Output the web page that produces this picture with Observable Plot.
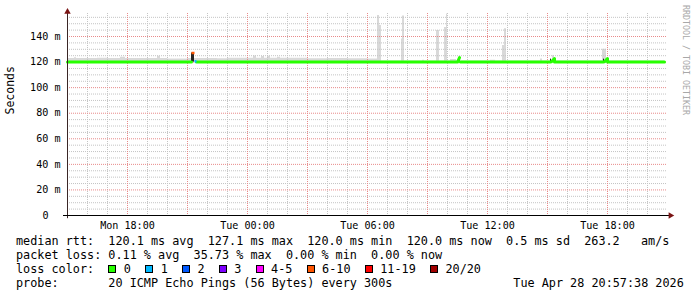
<!DOCTYPE html>
<html><head><meta charset="utf-8">
<script src="https://cdn.jsdelivr.net/npm/d3@7"></script>
<script src="https://cdn.jsdelivr.net/npm/@observablehq/plot@0.6"></script>
<style>
html,body{margin:0;padding:0;background:#fff;}
#wrap{position:relative;width:697px;height:297px;overflow:hidden;font-family:"DejaVu Sans Mono",monospace;color:#000;background:#fff;}
#chart{position:absolute;left:0;top:0;}
#legend{position:absolute;left:16px;top:234.2px;width:681px;font-size:11.8px;line-height:14px;}
.ln{position:relative;height:14px;white-space:pre;}
.box{display:inline-block;width:8px;height:8px;box-sizing:border-box;border:1px solid #000;margin-right:7.5px;vertical-align:baseline;}
.date{position:absolute;left:497.3px;top:0;}
#wm{position:absolute;left:681px;top:5px;writing-mode:vertical-rl;font-size:8.3px;line-height:10px;color:#a8a8a8;white-space:pre;}
</style></head>
<body><div id="wrap"><div id="chart"></div><div id="legend"></div><div id="wm"></div></div>
<script>
// ---------- data ----------
const timeDomain = ["27 15:00", "28 21:00"];
const xLabelTimes = ["27 18:00", "28 00:00", "28 06:00", "28 12:00", "28 18:00"];
const yTicks = [0, 20, 40, 60, 80, 100, 120, 140];
const yMax = 158;

// smoke (spread of pings): step-after tops in ms
const smokeTimes = ["27 15:00","27 15:21","27 15:27","27 16:30","27 17:00","27 17:39","27 17:54","27 19:30","27 19:39","27 20:00","27 21:00","27 22:30","27 23:00",
"28 00:18","28 00:27","28 00:42","28 00:51","28 01:00","28 01:09","28 01:30","28 01:39","28 03:00","28 04:00","28 05:00","28 06:00",
"28 06:30","28 06:36","28 06:42","28 07:42","28 07:45","28 07:51","28 08:45","28 08:51","28 09:27","28 09:36","28 09:51","28 09:57","28 10:00","28 10:09","28 10:27",
"28 12:09","28 12:24","28 12:45","28 12:51","28 12:57","28 14:39","28 14:45","28 15:15","28 15:21","28 17:45","28 17:57","28 20:51"];
const smokeTops = [122.8,123.4,122.8,123.0,122.8,123.8,122.8,124.6,122.8,122.5,122.8,122.6,123.0,
124.8,123.0,124.3,123.0,124.6,123.0,123.8,123.0,122.6,122.8,122.6,122.4,
156.4,148.6,120.8,138.0,156.0,120.8,121.5,120.8,144.7,120.8,147.0,157.7,120.8,122.0,120.8,
121.5,120.8,133.0,146.0,120.8,122.5,120.8,125.0,120.8,130.0,120.8,120.8];
const smokeBase = 119.8;

// median rtt (ms); NaN = break in the line
const medianTimes = ["27 15:00","27 21:12","27 21:12","27 21:27","28 10:30","28 10:36","28 10:36","28 10:39","28 15:09","28 15:09","28 15:12","28 15:21","28 15:21","28 17:48","28 17:48","28 17:51","28 18:00","28 18:00","28 20:51"];
const medianValues = [120.1,120.1,NaN,120.1,120.0,123.5,NaN,120.0,120.0,NaN,120.3,122.8,120.1,120.1,NaN,120.3,122.8,120.1,120.1];

// median segments with packet loss
const lossSegStart = ["27 21:12", "27 21:21"];
const lossSegEnd = ["27 21:21", "27 21:27"];
const lossSegValue = [127.1, 120.6];
const lossSegBin = ["6-10", "1"];

// dark columns (dense smoke at loss events)
const darkStart = ["27 21:12", "28 10:36", "28 15:09", "28 17:48"];
const darkEnd = ["27 21:21", "28 10:39", "28 15:12", "28 17:51"];
const darkTop = [127.1, 123.5, 122.3, 122.3];

// legend
const lossBins = ["0", "1", "2", "3", "4-5", "6-10", "11-19", "20/20"];
const lossColors = ["#26ff00", "#00b8ff", "#0059ff", "#7e00ff", "#ff00ff", "#ff5500", "#ff0000", "#a10000"];
const rttStats = ["120.1 ms avg", "127.1 ms max", "120.0 ms min", "120.0 ms now", "0.5 ms sd", "263.2   am/s"];
const lossStats = ["0.11 % avg", "35.73 % max", "0.00 % min", "0.00 % now"];
const probeText = "20 ICMP Echo Pings (56 Bytes) every 300s";
const dateText = "Tue Apr 28 20:57:38 2026";
const yLabel = "Seconds";
const watermark = "RRDTOOL / TOBI OETIKER";

// ---------- build ----------
const P = s => { const [d, hm] = s.split(" "); const [h, m] = hm.split(":"); return new Date(Date.UTC(2026, 3, +d, +h, +m)); };
const MIN = 60000;
const tStart = P(timeDomain[0]), tEnd = P(timeDomain[1]);
const binColor = Object.fromEntries(lossBins.map((b, i) => [b, lossColors[i]]));

const smoke = smokeTimes.map((s, i) => ({t: P(s), lo: smokeBase, hi: smokeTops[i]}));
const median = medianTimes.map((s, i) => ({t: P(s), v: medianValues[i]}));
const lossSegs = lossSegStart.map((s, i) => ({t1: P(s), t2: P(lossSegEnd[i]), v: lossSegValue[i], c: binColor[lossSegBin[i]]}));
const dark = darkStart.map((s, i) => ({t1: P(s), t2: P(darkEnd[i]), lo: 120, hi: darkTop[i]}));

const minorY = d3.range(5, yMax, 5).filter(v => v % 20 !== 0);
const majorY = d3.range(20, yMax, 20);
const hours = d3.utcHour.range(tStart, tEnd);
const minorX = hours.filter(d => d.getUTCHours() % 3 !== 0);
const majorX = hours.filter(d => d.getUTCHours() % 3 === 0 && +d !== +tStart);

const chart = Plot.plot({
  width: 697, height: 233,
  marginLeft: 67, marginRight: 30, marginTop: 13, marginBottom: 18,
  style: {fontFamily: "'DejaVu Sans Mono', monospace", fontSize: "10.1px", color: "#000", background: "transparent", overflow: "visible"},
  x: {type: "utc", domain: [tStart, tEnd]},
  y: {domain: [0, yMax], label: null},
  marks: [
    Plot.areaY(smoke, {x: "t", y1: "lo", y2: "hi", curve: "step-after", fill: "#d9d9d9"}),
    Plot.ruleY(minorY, {stroke: "#c4c4c4", strokeDasharray: "1,1"}),
    Plot.ruleX(minorX, {stroke: "#c4c4c4", strokeDasharray: "1,1"}),
    Plot.ruleY(majorY, {stroke: "#e88a8a", strokeDasharray: "1,1"}),
    Plot.ruleX(majorX, {stroke: "#e88a8a", strokeDasharray: "1,1"}),
    Plot.rect(dark, {x1: "t1", x2: "t2", y1: "lo", y2: "hi", fill: "#262626"}),
    Plot.line(median, {x: "t", y: "v", stroke: "#26ff00", strokeWidth: 3}),
    Plot.link(lossSegs, {x1: "t1", x2: "t2", y1: "v", y2: "v", stroke: "c", strokeWidth: 2.5}),
    Plot.ruleX([0], {x: () => tStart, y1: () => -2.5, y2: () => yMax, stroke: "#3a2626"}),
    Plot.ruleY([0], {y: () => 0, x1: () => new Date(+tStart - 12 * MIN), x2: () => new Date(+tEnd + 6 * MIN), stroke: "#000"}),
    Plot.dot([0], {x: () => tStart, y: () => yMax + 1.3, symbol: "triangle", r: 2.4, fill: "#7a1414", stroke: null}),
    Plot.dot([0], {x: () => new Date(+tEnd + 9 * MIN), y: () => 0, symbol: "triangle", rotate: 90, r: 2.4, fill: "#7a1414", stroke: null}),
    Plot.axisY(yTicks.filter(d => d > 0), {tickFormat: d => `${d} m`, tickSize: 0, tickPadding: 7, label: null}),
    Plot.axisY([0], {tickFormat: () => "0", tickSize: 0, tickPadding: 19, label: null}),
    Plot.axisX(xLabelTimes.map(P), {tickFormat: d3.utcFormat("%a %H:%M"), tickSize: 0, tickPadding: 6.5, label: null}),
    Plot.text([yLabel], {frameAnchor: "left", rotate: -90, dx: -57, fontSize: 11.5, text: d => d})
  ]
});
document.getElementById("chart").appendChild(chart);

// legend text block
const legend = document.getElementById("legend");
const line = txt => { const d = document.createElement("div"); d.className = "ln"; d.textContent = txt; legend.appendChild(d); return d; };
line("median rtt:  " + rttStats.join("  "));
line("packet loss: " + lossStats.join("  "));
const l3 = line("loss color:  ");
lossBins.forEach((b, i) => {
  const box = document.createElement("span");
  box.className = "box"; box.style.background = lossColors[i];
  l3.appendChild(box);
  l3.appendChild(document.createTextNode(b + (i < lossBins.length - 1 ? "  " : "")));
});
const l4 = line("probe:       " + probeText);
const dt = document.createElement("span"); dt.className = "date"; dt.textContent = dateText; l4.appendChild(dt);
document.getElementById("wm").textContent = watermark;
</script>
</body></html>
